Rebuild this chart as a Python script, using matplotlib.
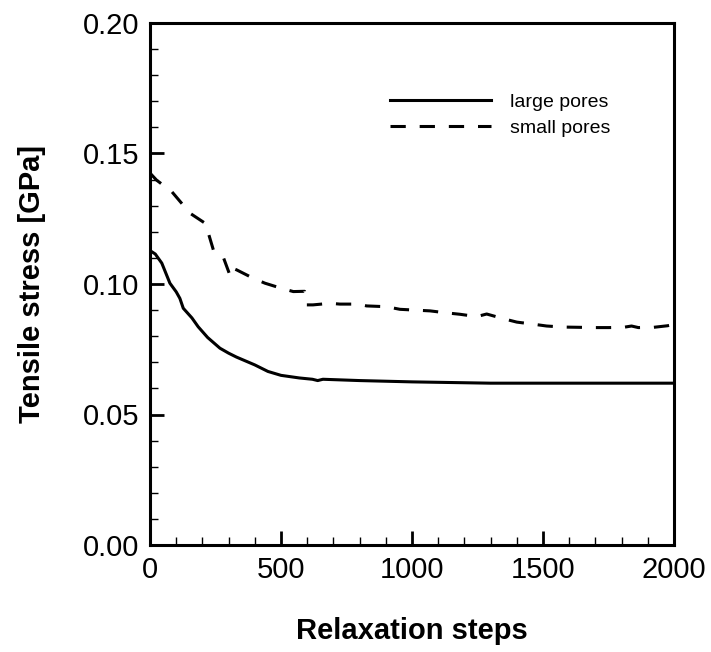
import matplotlib
matplotlib.use("Agg")
import matplotlib.pyplot as plt
from matplotlib.ticker import MultipleLocator, FormatStrFormatter

plt.rcParams['font.family'] = ['Liberation Sans', 'DejaVu Sans']
plt.rcParams['lines.scale_dashes'] = False

# large pores (solid)
large_x = [0, 20, 45, 76, 100, 114, 127, 160, 184, 220, 267, 300, 330, 400, 450, 500,
           570, 620, 640, 660, 800, 1000, 1300, 1600, 2000]
large_y = [0.1128, 0.1115, 0.108, 0.1003, 0.097, 0.0945, 0.0907, 0.087, 0.0836, 0.0795, 0.0754,
           0.0735, 0.072, 0.069, 0.0665, 0.065, 0.064, 0.0635, 0.063, 0.0635, 0.063, 0.0625,
           0.062, 0.062, 0.062]

# small pores (dashed)
small_x = [0, 25, 83, 153, 210, 223, 242, 280, 305, 312, 331, 394, 439, 503, 547, 590,
           598, 622, 687, 725, 794, 827, 903, 954, 1011, 1069, 1126, 1183, 1247, 1285,
           1349, 1400, 1463, 1514, 1578, 1641, 1692, 1750, 1807, 1838, 1864, 1922, 1975, 2000]
small_y = [0.1425, 0.1398, 0.1354, 0.1271, 0.1233, 0.1194, 0.113, 0.1102, 0.1034, 0.1062,
           0.1054, 0.1022, 0.1003, 0.0983, 0.0971, 0.0972, 0.092, 0.092, 0.0926, 0.0923,
           0.0923, 0.0916, 0.0913, 0.0903, 0.0900, 0.0897, 0.089, 0.0884, 0.0875, 0.0885,
           0.0867, 0.0854, 0.0846, 0.0839, 0.0835, 0.0834, 0.0833, 0.0833, 0.0834, 0.0839,
           0.0833, 0.0834, 0.084, 0.0845]

fig = plt.figure(figsize=(7.11, 6.52), dpi=100)
ax = fig.add_axes([150/711, 1-545/652, 524/711, 522/652])

ax.plot(large_x, large_y, color='black', lw=2.2, label='large pores')
ax.plot(small_x, small_y, color='black', lw=2.2, dashes=(11, 10), label='small pores')

ax.set_xlim(0, 2000)
ax.set_ylim(0, 0.2)
ax.xaxis.set_major_locator(MultipleLocator(500))
ax.xaxis.set_minor_locator(MultipleLocator(100))
ax.yaxis.set_major_locator(MultipleLocator(0.05))
ax.yaxis.set_minor_locator(MultipleLocator(0.01))
ax.yaxis.set_major_formatter(FormatStrFormatter('%.2f'))

ax.tick_params(which='both', direction='in', top=False, right=False, labelsize=21)
ax.tick_params(which='major', length=10, width=2, pad=8)
ax.tick_params(which='minor', length=6, width=1)
for s in ax.spines.values():
    s.set_linewidth(2.2)

ax.set_xlabel('Relaxation steps', fontsize=21, fontweight='bold', labelpad=24)
ax.set_ylabel('Tensile stress [GPa]', fontsize=21, fontweight='bold', labelpad=26)

ax.legend(loc='upper left', bbox_to_anchor=((390-150)/524, (545-93)/522), frameon=False,
          fontsize=14, handlelength=5.2, handletextpad=0.95, borderpad=0, borderaxespad=0,
          labelspacing=0.45)

fig.savefig('out.png', dpi=100)
